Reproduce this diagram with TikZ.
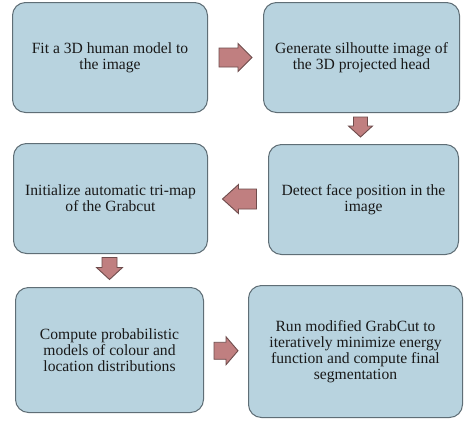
\documentclass[tikz,border=0pt]{standalone}
\usepackage{fontspec}
\setmainfont{Liberation Serif}
\usetikzlibrary{calc}
\definecolor{boxfill}{HTML}{B8D3DF}
\definecolor{boxline}{HTML}{5F6E76}
\definecolor{arrfill}{HTML}{C07F80}
\definecolor{arrline}{HTML}{6E4C4C}
\tikzset{
  box/.style={draw=boxline, line width=1pt, fill=boxfill, rounded corners=13pt,
    anchor=north west, align=center, inner sep=0pt,
    font=\fontsize{15.6}{16}\selectfont, text=black!90},
  barrow/.style={draw=arrline, line width=0.9pt, fill=arrfill, line join=miter}
}
\begin{document}
\begin{tikzpicture}[x=1pt,y=-1pt]
\useasboundingbox (0,0) rectangle (474,429);
\fill[white] (0,0) rectangle (474,429);
\node[box, minimum width=195pt, minimum height=110pt] (b1) at (12,2) {Fit a 3D human model to\\the image};
\node[box, minimum width=196pt, minimum height=110pt] (b2) at (263,2) {Generate silhoutte image of\\the 3D projected head};
\node[box, minimum width=194pt, minimum height=110pt] (b3) at (13,143) {Initialize automatic tri-map\\of the Grabcut};
\node[box, minimum width=190pt, minimum height=110pt] (b4) at (268,144) {Detect face position in the\\image};
\node[box, minimum width=188pt, minimum height=125pt] (b5) at (15,287) {Compute probabilistic\\models of colour and\\location distributions};
\node[box, minimum width=214pt, minimum height=132pt] (b6) at (248,285) {Run modified GrabCut to\\iteratively minimize energy\\function and compute final\\segmentation};
% connectors
\coordinate (a1) at ($(b1.east)!0.5!(b2.west)$);
\coordinate (a2) at ($(b2.south)!0.5!(b4.north)+(-2,-1.5)$);
\coordinate (a3) at ($(b4.west)!0.5!(b3.east)+(1.5,0)$);
\coordinate (a4) at ($(b3.south)!0.5!(b5.north)+(-0.5,-2)$);
\coordinate (a5) at ($(b5.east)!0.5!(b6.west)$);
\draw[barrow, shift={(a1)}] (-16.5,-9.5) -- (2.5,-9.5) -- (2.5,-14) -- (16.5,0) -- (2.5,14) -- (2.5,9.5) -- (-16.5,9.5) -- cycle;
\draw[barrow, shift={(a2)}, rotate=-90] (-10,-7) -- (-1,-7) -- (-1,-12) -- (10,0) -- (-1,12) -- (-1,7) -- (-10,7) -- cycle;
\draw[barrow, shift={(a3)}, rotate=180] (-17,-10) -- (1,-10) -- (1,-14.5) -- (17,0) -- (1,14.5) -- (1,10) -- (-17,10) -- cycle;
\draw[barrow, shift={(a4)}, rotate=-90] (-11,-7.5) -- (-1,-7.5) -- (-1,-13) -- (11,0) -- (-1,13) -- (-1,7.5) -- (-11,7.5) -- cycle;
\draw[barrow, shift={(a5)}] (-12,-8.5) -- (0,-8.5) -- (0,-14) -- (12,0) -- (0,14) -- (0,8.5) -- (-12,8.5) -- cycle;
\end{tikzpicture}
\end{document}
